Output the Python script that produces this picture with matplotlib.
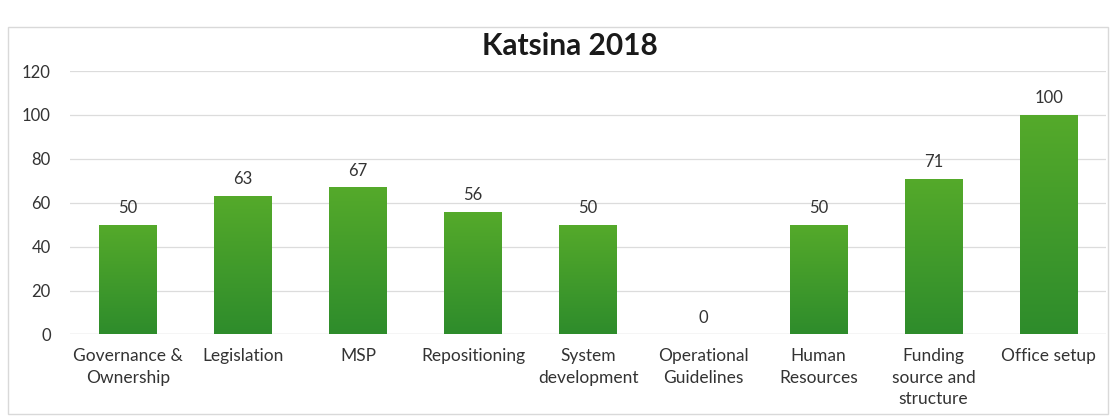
import matplotlib
matplotlib.use("Agg")
import matplotlib.pyplot as plt
import numpy as np
from matplotlib.patches import Rectangle

categories = ["Governance &\nOwnership", "Legislation", "MSP", "Repositioning",
              "System\ndevelopment", "Operational\nGuidelines", "Human\nResources",
              "Funding\nsource and\nstructure", "Office setup"]
values = [50, 63, 67, 56, 50, 0, 50, 71, 100]
yticks = [0, 20, 40, 60, 80, 100, 120]
title = "Katsina 2018"

plt.rcParams["font.family"] = ["Lato", "DejaVu Sans"]

fig = plt.figure(figsize=(11.14, 4.18), dpi=100)
ax = fig.add_axes([0.063, 0.2, 0.93, 0.63])

x = np.arange(len(categories))
bars = ax.bar(x, values, width=0.5, color="#3f9a2c", zorder=2)

# vertical gradient fill clipped to each bar
grad = np.linspace(0, 1, 256).reshape(-1, 1)
cmap = matplotlib.colors.LinearSegmentedColormap.from_list("g", ["#2e8c2c", "#55aa2a"])
for b in bars:
    if b.get_height() <= 0:
        continue
    x0, w, h = b.get_x(), b.get_width(), b.get_height()
    im = ax.imshow(grad, extent=(x0, x0 + w, 0, h), origin="lower", cmap=cmap,
                   aspect="auto", zorder=3)
    im.set_clip_path(b)

for xi, v in zip(x, values):
    ax.text(xi, v + 4, str(v), ha="center", va="bottom", fontsize=12, color="#333333")

ax.set_xlim(-0.5, len(categories) - 0.5)
ax.set_ylim(0, 120)
ax.set_yticks(yticks)
ax.set_xticks(x)
ax.set_xticklabels(categories, fontsize=12.5, color="#333333", linespacing=1.42)
ax.tick_params(axis="y", labelsize=12, labelcolor="#333333", length=0, pad=14)
ax.tick_params(axis="x", length=0, pad=10)
ax.yaxis.grid(True, color="#dcdcdc", linewidth=0.9, zorder=0)
for s in ax.spines.values():
    s.set_visible(False)
ax.axhline(0, color="#d0d0d0", linewidth=0.9, zorder=1)

fig.text(0.512, 0.89, title, ha="center", va="center", fontsize=21.5,
         fontweight="bold", color="#1a1a1a")

# outer chart border
fig.patches.append(Rectangle((0.007, 0.01), 0.988, 0.925, transform=fig.transFigure,
                             fill=False, edgecolor="#d9d9d9", linewidth=1))

fig.savefig("out.png", dpi=100, facecolor="white")
